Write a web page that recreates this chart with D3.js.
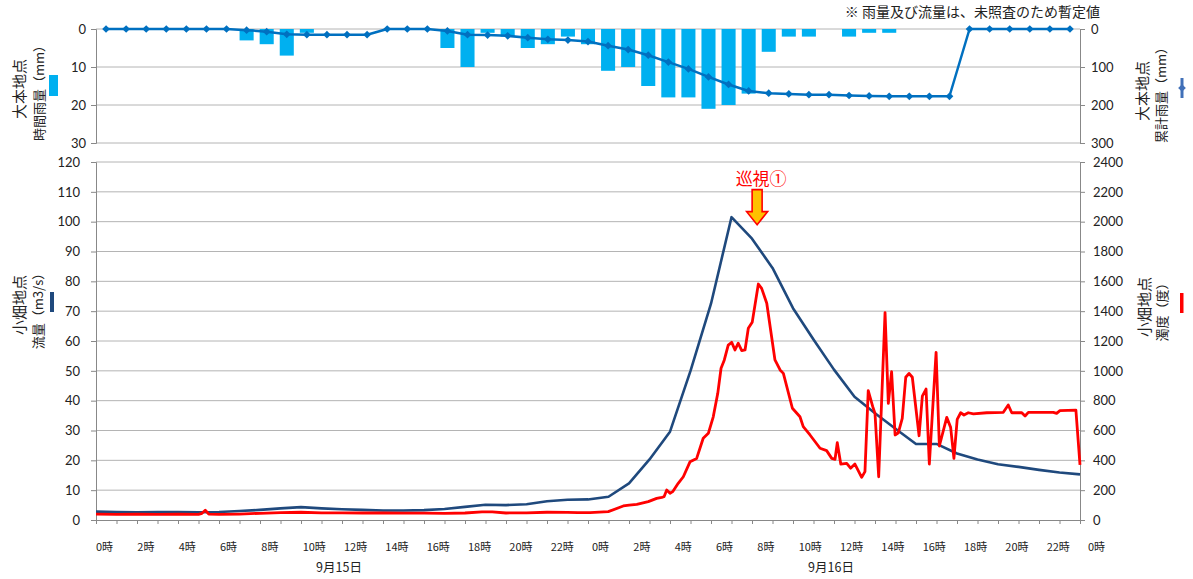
<!DOCTYPE html>
<html><head><meta charset="utf-8">
<script src="https://cdn.jsdelivr.net/npm/d3@7"></script>
<style>
body{margin:0;background:#fff}
text{font-family:Lato,"Noto Sans CJK JP",sans-serif;fill:#222}
.jp{font-family:"Noto Sans CJK JP",sans-serif}
</style>
</head><body>
<svg id="c" width="1193" height="579"></svg>
<script>
// ---------- DATA ----------
const rainIdx = d3.range(49); // hourly categories (top chart)
const hourlyRain = [0,0,0,0,0,0,0, 3,4,7,1, 0,0,0,0,0,0, 5,10,1,2,5,4,2,4,11,10,15,18,18,21,20,17,6,2,2, 0, 2,1,1, 0,0,0,0,0,0,0,0,0];
const cumRain = [0,0,0,0,0,0,0, 3,7,14,15,15,15,15, 0,0,0, 5,15,16,18,23,27,29,33,44,54,69,87,105,126,146,163,169,171,173,173,175,176,177,177,177,177, 0,0,0,0,0,0];

const flowHours = d3.range(49);
const flowValues = [2.8,2.7,2.6,2.7,2.7,2.6,2.7,3.0,3.4,3.9,4.3,3.9,3.6,3.4,3.2,3.2,3.3,3.7,4.4,5.1,5.0,5.3,6.3,6.8,6.9,7.8,12.3,20.3,29.6,50,72.5,101.5,94.3,84.5,71,60.5,50.4,41.3,35.8,30.6,25.5,25.5,22.3,20.3,18.7,17.8,16.8,15.9,15.3];

const turbHours = [0,1,2,3,4,5,5.17,5.33,5.5,6,7,8,9,10,11,12,13,14,15,16,17,18,18.83,19.33,20,21,22,23,23.5,24.1,
  24.99,25.72,26.01,26.38,26.94,27.35,27.6,27.71,27.84,28.0,28.13,28.4,28.65,28.98,29.3,29.62,29.87,30.11,30.33,30.49,30.65,30.84,31.01,31.17,31.33,31.5,31.66,31.82,32.01,32.31,32.47,32.72,33.12,33.37,33.53,33.97,34.34,34.5,34.83,35.32,35.64,35.89,36.05,36.16,
  36.33,36.62,36.81,37.02,37.35,37.51,37.67,37.89,38.0,38.18,38.49,38.65,38.81,38.98,39.14,39.33,39.5,39.66,39.82,40.15,40.31,40.49,40.65,40.98,41.14,41.5,41.69,41.85,42.01,42.18,42.34,42.55,42.8,43.45,44.26,44.5,44.67,45.16,45.32,45.48,46.7,46.86,47.02,47.8,48];
const turbValues = [40,38,40,38,40,38,45,65,40,38,40,45,50,52,48,48,47,47,46,46,44,47,55,54,47,48,52,51,49,49,
  56,94,100,105,123,145,152,156,201,179,190,246,290,391,413,548,581,692,849,1017,1073,1173,1191,1140,1185,1135,1140,1285,1325,1582,1553,1453,1073,1006,983,749,692,626,570,481,465,413,407,518,
  375,380,347,375,286,324,867,760,715,290,1390,782,994,570,585,682,957,983,957,565,831,878,375,1124,496,688,621,413,675,719,704,719,711,719,722,771,719,719,697,722,722,715,733,737,370];

const rainTicks = [0,10,20,30];
const cumTicks = [0,100,200,300];
const flowTicks = [0,10,20,30,40,50,60,70,80,90,100,110,120];
const turbTicks = [0,200,400,600,800,1000,1200,1400,1600,1800,2000,2200,2400];
const hourLabels = ["0時","2時","4時","6時","8時","10時","12時","14時","16時","18時","20時","22時",
  "0時","2時","4時","6時","8時","10時","12時","14時","16時","18時","20時","22時","0時"];
const dayLabels = ["9月15日","9月16日"];
const patrol = {label:"巡視①", hour:32.25, flow:99};
const note = "※ 雨量及び流量は、未照査のため暫定値";

// ---------- LAYOUT ----------
const svg = d3.select("#c");
const L = 96, R = 1080;
const gridC = "#b4b4b4", axisC = "#888";
const barC = "#00B0F0", cumC = "#0070C0", flowC = "#1F497D", turbC = "#FF0000";

const xBand = d3.scaleBand().domain(rainIdx).range([L,R]).paddingInner(0.3).paddingOuter(0.15);
const yRain = d3.scaleLinear().domain([0,30]).range([29,143]);
const yCum = d3.scaleLinear().domain([0,300]).range([29,143]);
const xT = d3.scaleLinear().domain([0,48]).range([L,R]);
const xLab = d3.scaleLinear().domain([0,48]).range([L,1088]);
const yFlow = d3.scaleLinear().domain([0,120]).range([520,162]);
const yTurb = d3.scaleLinear().domain([0,2400]).range([520,162]);

// ---------- TOP CHART ----------
const gTop = svg.append("g");
gTop.selectAll("line.g").data(rainTicks).join("line")
  .attr("x1",L).attr("x2",R).attr("y1",d=>yRain(d)).attr("y2",d=>yRain(d))
  .attr("stroke",gridC).attr("stroke-width",1);
gTop.selectAll("rect.bar").data(rainIdx.filter(i=>hourlyRain[i]>0)).join("rect")
  .attr("x",i=>xBand(i)).attr("width",xBand.bandwidth())
  .attr("y",yRain(0)).attr("height",i=>yRain(hourlyRain[i])-yRain(0))
  .attr("fill",barC);
const gL = gTop.append("g").attr("transform",`translate(${L},0)`)
  .call(d3.axisLeft(yRain).tickValues(rainTicks).tickSize(5).tickPadding(5));
const gR = gTop.append("g").attr("transform",`translate(${R},0)`)
  .call(d3.axisRight(yCum).tickValues(cumTicks).tickSize(5).tickPadding(6));
[gL,gR].forEach(g=>{g.select(".domain").attr("stroke",axisC);g.selectAll(".tick line").attr("stroke",axisC);
  g.selectAll("text").attr("font-size",13).attr("fill","#222").style("font-family","Lato,sans-serif");});
const cumLine = d3.line().x(i=>xBand(i)+xBand.bandwidth()/2).y(i=>yCum(cumRain[i]));
gTop.append("path").datum(rainIdx).attr("d",cumLine).attr("fill","none")
  .attr("stroke",cumC).attr("stroke-width",2.5).attr("stroke-linejoin","round");
const diamond = d3.symbol().type(d3.symbolSquare).size(30);
gTop.selectAll("path.dm").data(rainIdx).join("path")
  .attr("d",diamond)
  .attr("transform",i=>`translate(${xBand(i)+xBand.bandwidth()/2},${yCum(cumRain[i])}) rotate(45)`)
  .attr("fill",cumC);

// ---------- BOTTOM CHART ----------
const gBot = svg.append("g");
gBot.selectAll("line.g").data(flowTicks.slice(1)).join("line")
  .attr("x1",L).attr("x2",R).attr("y1",d=>yFlow(d)).attr("y2",d=>yFlow(d))
  .attr("stroke",gridC).attr("stroke-width",1);
const bL = gBot.append("g").attr("transform",`translate(${L},0)`)
  .call(d3.axisLeft(yFlow).tickValues(flowTicks).tickSize(5).tickPadding(11));
const bR = gBot.append("g").attr("transform",`translate(${R},0)`)
  .call(d3.axisRight(yTurb).tickValues(turbTicks).tickFormat(d3.format("d")).tickSize(5).tickPadding(8));
const bX = gBot.append("g").attr("transform",`translate(0,520)`)
  .call(d3.axisBottom(xT).tickValues(flowHours).tickSize(4).tickFormat(""));
[bL,bR,bX].forEach(g=>{g.select(".domain").attr("stroke",axisC);g.selectAll(".tick line").attr("stroke",axisC);
  g.selectAll("text").attr("font-size",13).attr("fill","#222").style("font-family","Lato,sans-serif");});

gBot.append("path").datum(flowHours).attr("fill","none").attr("stroke",flowC).attr("stroke-width",2.6)
  .attr("stroke-linejoin","round")
  .attr("d",d3.line().x(h=>xT(h)).y((h,i)=>yFlow(flowValues[i])));
gBot.append("path").datum(turbHours).attr("fill","none").attr("stroke",turbC).attr("stroke-width",2.8)
  .attr("stroke-linejoin","round")
  .attr("d",d3.line().x(h=>xT(h)).y((h,i)=>yTurb(turbValues[i])));

gBot.selectAll("text.hl").data(hourLabels).join("text").attr("class","jp")
  .attr("x",(d,i)=>xLab(i*2)).attr("y",551).attr("font-size",11).attr("text-anchor","start")
  .text(d=>d);
gBot.selectAll("text.dl").data(dayLabels).join("text").attr("class","jp")
  .attr("x",(d,i)=>(xT(i*24)+xT(i*24+24))/2-3).attr("y",572).attr("font-size",12.5).attr("text-anchor","middle")
  .text(d=>d);

const ax = xT(patrol.hour), ay = yFlow(patrol.flow);
gBot.append("path")
  .attr("d",`M${ax-5},${ay-35}L${ax+5},${ay-35}L${ax+5},${ay-13}L${ax+10.5},${ay-13}L${ax},${ay}L${ax-10.5},${ay-13}L${ax-5},${ay-13}Z`)
  .attr("fill","#FFC000").attr("stroke","#FF0000").attr("stroke-width",1.6).attr("stroke-linejoin","miter");
gBot.append("text").attr("class","jp").attr("x",ax+4).attr("y",ay-40).attr("text-anchor","middle")
  .attr("font-size",17).style("fill","#FF0000").text(patrol.label);

svg.append("text").attr("class","jp").attr("x",1100).attr("y",17).attr("text-anchor","end")
  .attr("font-size",14).text(note);

function vtext(x,y,txt,size){
  svg.append("text").attr("class","jp").attr("transform",`translate(${x},${y}) rotate(-90)`)
    .attr("text-anchor","middle").attr("dominant-baseline","central").attr("font-size",size).text(txt);
}
vtext(18,89,"大本地点",15); vtext(38,90,"時間雨量（mm）",13);
vtext(1141,91,"大本地点",15); vtext(1160,92,"累計雨量（mm）",13);
vtext(18,305,"小畑地点",15); vtext(37,308,"流量（m3/s）",13);
vtext(1143,307,"小畑地点",15); vtext(1161,309,"濁度（度）",13);

svg.append("rect").attr("x",49).attr("y",75).attr("width",9).attr("height",21).attr("fill",barC);
svg.append("line").attr("x1",1182).attr("x2",1182).attr("y1",78).attr("y2",98).attr("stroke","#4170B8").attr("stroke-width",3);
svg.append("path").attr("d",diamond).attr("transform","translate(1182,88) rotate(45)").attr("fill","#4170B8");
svg.append("rect").attr("x",50).attr("y",292).attr("width",4).attr("height",20).attr("fill",flowC);
svg.append("rect").attr("x",1180).attr("y",293).attr("width",3.5).attr("height",20).attr("fill",turbC);
</script>
</body></html>
